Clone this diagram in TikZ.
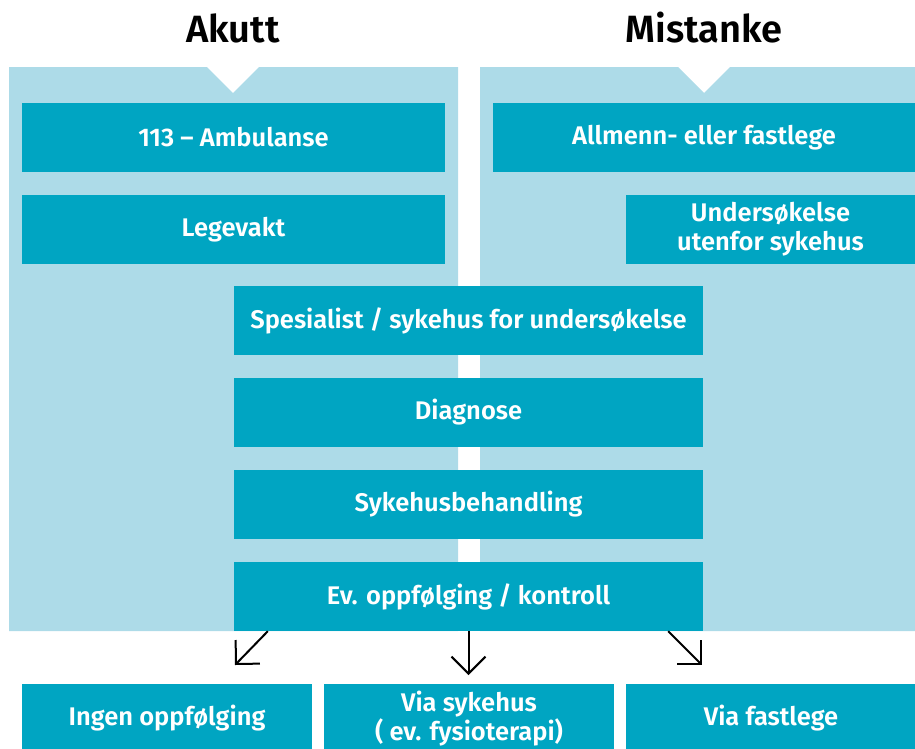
\documentclass[tikz,border=0pt]{standalone}
\usepackage{fontspec}
\setmainfont{Fira Sans}[BoldFont={Fira Sans SemiBold}]
\usetikzlibrary{arrows.meta}
\definecolor{lysblaa}{HTML}{ADDBE8}
\definecolor{moerkblaa}{HTML}{00A5C2}

\begin{document}
\begin{tikzpicture}[x=1pt,y=-1pt,
  boks/.style={fill=moerkblaa,text=white,inner sep=0pt,align=center,
    minimum height=69pt,font=\fontsize{25.5}{29}\selectfont\bfseries},
  tittel/.style={anchor=base,text=black,font=\fontsize{38}{44}\selectfont\bfseries},
  pil/.style={draw=black,line width=2pt,-{Straight Barb[angle=90:24pt]}}]
\clip (0,0) rectangle (915,748);
\useasboundingbox (0,0) rectangle (915,748);
\fill[lysblaa](9,67)--(207,67)--(233,93)--(259,67)--(458,67)--(458,631)--(9,631)--cycle;
\fill[lysblaa](480,67)--(678,67)--(704,93)--(730,67)--(915,67)--(915,631)--(480,631)--cycle;
\node[tittel] (akutt) at (233,42) {Akutt};
\node[tittel] (mistanke) at (704,42) {Mistanke};
\node[boks,minimum width=423pt] (amb) at (233.5,137.5) {113 – Ambulanse};
\node[boks,minimum width=423pt] (lege) at (233.5,229.5) {Legevakt};
\node[boks,minimum width=422pt] (fast) at (704,137.5) {Allmenn- eller fastlege};
\node[boks,minimum width=289pt] (utenfor) at (770.5,229.5) {Undersøkelse\\utenfor sykehus};
\node[boks,minimum width=469pt] (spes) at (468.5,320.5) {Spesialist / sykehus for undersøkelse};
\node[boks,minimum width=469pt] (diag) at (468.5,412.5) {Diagnose};
\node[boks,minimum width=469pt] (beh) at (468.5,504.5) {Sykehusbehandling};
\node[boks,minimum width=469pt] (evopp) at (468.5,596.5) {Ev. oppfølging / kontroll};
\node[boks,minimum width=290pt] (ingen) at (167,718.5) {Ingen oppfølging};
\node[boks,minimum width=290pt] (viasyk) at (469,718.5) {Via sykehus\\( ev. fysioterapi)};
\node[boks,minimum width=290pt] (viafast) at (771,718.5) {Via fastlege};
\coordinate (p1) at (235,665);
\coordinate (p2) at (468.5,675);
\coordinate (p3) at (702,665);
\draw[pil] (evopp.south west)++(34,0)--(p1);
\draw[pil] (evopp.south)--(p2);
\draw[pil] (evopp.south east)++(-35,0)--(p3);
\end{tikzpicture}
\end{document}
